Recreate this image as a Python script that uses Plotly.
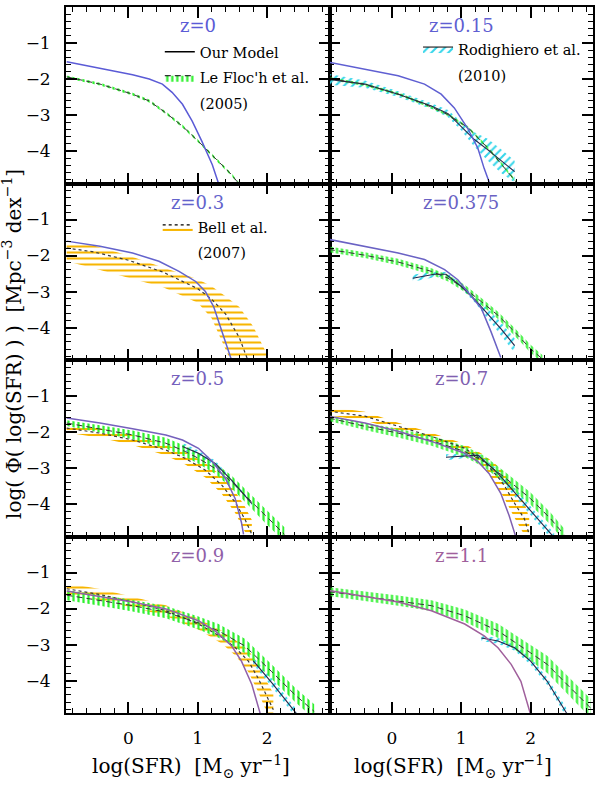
import plotly.graph_objects as go
from plotly.subplots import make_subplots

# ---------------- data ----------------
z_labels = ["z=0", "z=0.15", "z=0.3", "z=0.375", "z=0.5", "z=0.7", "z=0.9", "z=1.1"]
z_colors = ["#5b5bd6", "#5f5fd2", "#6363cc", "#6a62c4", "#7560bc", "#8060b0", "#9060a8", "#a0609c"]

# --- model curves ---
model_x_z0 = [-0.89, -0.41, 0.06, 0.30, 0.49, 0.63, 0.78, 0.92, 1.06, 1.21, 1.30]
model_y_z0 = [-1.52, -1.70, -1.88, -2.00, -2.14, -2.37, -2.70, -3.17, -3.73, -4.38, -4.90]
model_x_z015 = [-0.91, -0.39, 0.09, 0.47, 0.71, 0.90, 1.09, 1.24, 1.33, 1.41]
model_y_z015 = [-1.53, -1.72, -1.91, -2.14, -2.42, -2.80, -3.36, -3.92, -4.48, -4.90]
model_x_z03 = [-0.89, -0.41, 0.06, 0.44, 0.73, 0.97, 1.11, 1.23, 1.32, 1.44, 1.49]
model_y_z03 = [-1.60, -1.74, -1.93, -2.16, -2.44, -2.72, -3.00, -3.42, -3.94, -4.59, -4.92]
model_x_z0375 = [-0.91, -0.39, 0.09, 0.47, 0.76, 0.95, 1.14, 1.29, 1.43, 1.57]
model_y_z0375 = [-1.55, -1.74, -1.93, -2.11, -2.39, -2.67, -3.10, -3.47, -4.12, -4.83]
model_x_z05 = [-0.89, -0.41, 0.06, 0.54, 0.78, 1.01, 1.21, 1.40, 1.54, 1.63, 1.66]
model_y_z05 = [-1.61, -1.75, -1.91, -2.08, -2.22, -2.45, -2.82, -3.29, -3.85, -4.51, -4.84]
model_x_z07 = [-0.91, -0.39, 0.09, 0.57, 1.05, 1.24, 1.40, 1.57, 1.69, 1.79]
model_y_z07 = [-1.56, -1.75, -1.98, -2.26, -2.59, -2.82, -3.15, -3.70, -4.32, -4.93]
model_x_z09 = [-0.89, -0.41, 0.06, 0.54, 1.01, 1.25, 1.49, 1.63, 1.78, 1.90]
model_y_z09 = [-1.51, -1.66, -1.82, -2.01, -2.34, -2.62, -3.04, -3.46, -4.11, -4.91]
model_x_z11 = [-0.91, -0.39, 0.09, 0.57, 1.05, 1.33, 1.53, 1.72, 1.86, 2.00]
model_y_z11 = [-1.50, -1.66, -1.82, -2.06, -2.43, -2.76, -3.09, -3.55, -4.02, -4.94]

# --- Le Floc'h et al. (2005): centre and half-width (dex) ---
lf_x_z0 = [-0.89, -0.41, 0.06, 0.30, 0.54, 0.78, 1.01, 1.25, 1.49, 1.59]
lf_y_z0 = [-1.94, -2.14, -2.42, -2.61, -2.94, -3.31, -3.73, -4.20, -4.66, -4.90]
lf_e_z0 = [0.04, 0.04, 0.04, 0.04, 0.04, 0.04, 0.04, 0.04, 0.04, 0.04]
lf_x_z015 = [-0.91, -0.40, 0.10, 0.50, 0.80, 1.10, 1.40, 1.60, 1.81]
lf_y_z015 = [-1.98, -2.15, -2.42, -2.72, -2.98, -3.35, -3.95, -4.40, -4.90]
lf_e_z015 = [0.04, 0.04, 0.04, 0.04, 0.04, 0.04, 0.04, 0.04, 0.04]
lf_x_z0375 = [-0.91, -0.39, 0.09, 0.57, 0.81, 1.05, 1.29, 1.53, 1.77, 2.00, 2.17]
lf_y_z0375 = [-1.83, -1.99, -2.18, -2.44, -2.63, -2.91, -3.28, -3.66, -4.12, -4.59, -4.87]
lf_e_z0375 = [0.08, 0.08, 0.09, 0.09, 0.09, 0.10, 0.10, 0.10, 0.11, 0.11, 0.11]
lf_x_z05 = [-0.89, -0.41, 0.06, 0.54, 0.82, 1.01, 1.25, 1.49, 1.73, 1.97, 2.25]
lf_y_z05 = [-1.75, -1.91, -2.08, -2.31, -2.54, -2.73, -3.01, -3.39, -3.85, -4.32, -4.84]
lf_e_z05 = [0.08, 0.10, 0.12, 0.15, 0.15, 0.15, 0.15, 0.18, 0.18, 0.20, 0.20]
lf_x_z07 = [-0.91, -0.39, 0.09, 0.57, 1.05, 1.33, 1.62, 2.00, 2.29, 2.48]
lf_y_z07 = [-1.61, -1.84, -2.03, -2.24, -2.54, -2.82, -3.25, -3.85, -4.41, -4.84]
lf_e_z07 = [0.08, 0.10, 0.12, 0.14, 0.15, 0.16, 0.16, 0.17, 0.17, 0.17]
lf_x_z09 = [-0.89, -0.41, 0.06, 0.54, 1.01, 1.30, 1.68, 2.06, 2.40, 2.68]
lf_y_z09 = [-1.63, -1.77, -1.92, -2.10, -2.40, -2.62, -3.04, -3.74, -4.39, -4.86]
lf_e_z09 = [0.14, 0.15, 0.16, 0.17, 0.18, 0.19, 0.20, 0.20, 0.20, 0.20]
lf_x_z11 = [-0.91, -0.39, 0.09, 0.57, 1.05, 1.53, 2.00, 2.24, 2.48, 2.72, 2.87]
lf_y_z11 = [-1.53, -1.66, -1.78, -1.92, -2.20, -2.62, -3.23, -3.55, -4.02, -4.49, -4.77]
lf_e_z11 = [0.12, 0.13, 0.14, 0.15, 0.17, 0.20, 0.22, 0.24, 0.25, 0.26, 0.26]

# --- Rodighiero et al. (2010) ---
rod_x_z015 = [-0.91, -0.39, 0.09, 0.57, 0.81, 1.00, 1.19, 1.38, 1.57, 1.77]
rod_y_z015 = [-2.01, -2.14, -2.42, -2.75, -2.96, -3.31, -3.68, -3.96, -4.27, -4.57]
rod_e_z015 = [0.15, 0.10, 0.08, 0.08, 0.10, 0.12, 0.20, 0.30, 0.33, 0.30]
rod_x_z0375 = [0.30, 0.61, 0.78, 1.00, 1.19, 1.38, 1.57, 1.77]
rod_y_z0375 = [-2.63, -2.52, -2.52, -2.86, -3.21, -3.61, -4.03, -4.50]
rod_e_z0375 = [0.10, 0.08, 0.06, 0.06, 0.08, 0.14, 0.18, 0.20]
rod_x_z05 = [0.78, 1.01, 1.25, 1.49, 1.78]
rod_y_z05 = [-2.40, -2.59, -2.87, -3.34, -3.99]
rod_e_z05 = [0.10, 0.08, 0.08, 0.04, 0.04]
rod_x_z07 = [0.78, 1.05, 1.24, 1.53, 1.81, 2.10, 2.34]
rod_y_z07 = [-2.70, -2.66, -2.64, -3.15, -3.76, -4.41, -4.93]
rod_e_z07 = [0.08, 0.06, 0.06, 0.10, 0.12, 0.12, 0.12]
rod_x_z09 = [1.80, 2.09, 2.42]
rod_y_z09 = [-3.45, -4.11, -4.91]
rod_e_z09 = [0.10, 0.12, 0.12]
rod_x_z11 = [1.29, 1.53, 1.77, 2.00, 2.24, 2.48, 2.53]
rod_y_z11 = [-2.82, -2.90, -3.09, -3.46, -4.02, -4.77, -4.94]
rod_e_z11 = [0.08, 0.08, 0.08, 0.10, 0.10, 0.12, 0.12]

# --- Bell et al. (2007) ---
bell_x_z03 = [-0.89, -0.50, 0.00, 0.50, 1.00, 1.20, 1.40, 1.60, 1.80, 2.00]
bell_y_z03 = [-1.79, -1.90, -2.13, -2.46, -2.92, -3.21, -3.62, -4.28, -5.30, -5.90]
bell_hi_z03 = [-1.63, -1.72, -2.00, -2.33, -2.66, -2.85, -3.13, -3.43, -3.97, -4.75]
bell_lo_z03 = [-2.16, -2.35, -2.62, -2.88, -3.31, -3.74, -4.60, -5.50, -6.20, -6.80]
bell_x_z05 = [-0.89, -0.41, 0.06, 0.54, 0.82, 1.11, 1.35, 1.54, 1.68, 1.78]
bell_y_z05 = [-1.89, -2.03, -2.22, -2.50, -2.73, -3.06, -3.48, -3.95, -4.42, -4.84]
bell_e_z05 = [0.12, 0.13, 0.14, 0.15, 0.17, 0.20, 0.25, 0.30, 0.35, 0.40]
bell_x_z07 = [-0.91, -0.39, 0.09, 0.57, 1.05, 1.33, 1.53, 1.62, 1.76, 1.91, 1.98]
bell_y_z07 = [-1.42, -1.56, -1.84, -2.12, -2.45, -2.82, -3.25, -3.48, -3.95, -4.41, -4.84]
bell_e_z07 = [0.12, 0.12, 0.10, 0.10, 0.12, 0.18, 0.30, 0.35, 0.40, 0.45, 0.45]
bell_x_z09 = [-0.89, -0.41, 0.06, 0.54, 1.01, 1.35, 1.55, 1.73, 1.87, 1.98, 2.09]
bell_y_z09 = [-1.45, -1.61, -1.82, -2.06, -2.43, -2.80, -3.10, -3.46, -3.93, -4.39, -4.81]
bell_e_z09 = [0.15, 0.15, 0.15, 0.15, 0.15, 0.18, 0.22, 0.30, 0.38, 0.42, 0.45]

x_ticks = [0, 1, 2]
y_ticks = [-4, -3, -2, -1]

# ---------------- styles ----------------
GREEN = "#2ff02f"
CYAN = "#36d6ea"
ORANGE = "#f7b500"
SERIF = "DejaVu Serif"


def lo_hi(y, e):
    return [a - b for a, b in zip(y, e)], [a + b for a, b in zip(y, e)]


panels = [
    dict(model=(model_x_z0, model_y_z0), lf=(lf_x_z0, lf_y_z0, lf_e_z0)),
    dict(model=(model_x_z015, model_y_z015), lf=(lf_x_z015, lf_y_z015, lf_e_z015),
         rod=(rod_x_z015, rod_y_z015, rod_e_z015)),
    dict(model=(model_x_z03, model_y_z03),
         bell_band=(bell_x_z03, bell_y_z03, bell_lo_z03, bell_hi_z03)),
    dict(model=(model_x_z0375, model_y_z0375), lf=(lf_x_z0375, lf_y_z0375, lf_e_z0375),
         rod=(rod_x_z0375, rod_y_z0375, rod_e_z0375)),
    dict(model=(model_x_z05, model_y_z05), lf=(lf_x_z05, lf_y_z05, lf_e_z05),
         rod=(rod_x_z05, rod_y_z05, rod_e_z05), bell=(bell_x_z05, bell_y_z05, bell_e_z05)),
    dict(model=(model_x_z07, model_y_z07), lf=(lf_x_z07, lf_y_z07, lf_e_z07),
         rod=(rod_x_z07, rod_y_z07, rod_e_z07), bell=(bell_x_z07, bell_y_z07, bell_e_z07)),
    dict(model=(model_x_z09, model_y_z09), lf=(lf_x_z09, lf_y_z09, lf_e_z09),
         rod=(rod_x_z09, rod_y_z09, rod_e_z09), bell=(bell_x_z09, bell_y_z09, bell_e_z09)),
    dict(model=(model_x_z11, model_y_z11), lf=(lf_x_z11, lf_y_z11, lf_e_z11),
         rod=(rod_x_z11, rod_y_z11, rod_e_z11)),
]

fig = make_subplots(rows=4, cols=2, horizontal_spacing=0, vertical_spacing=0)

PAT = {
    "lf": dict(shape="|", fgcolor=GREEN, size=5, solidity=0.45),
    "rod": dict(shape="/", fgcolor=CYAN, size=6, solidity=0.35),
    "bell": dict(shape="-", fgcolor=ORANGE, size=6, solidity=0.35),
}
CENTER = {
    "lf": dict(color="#333333", width=1, dash="6px,4px"),
    "rod": dict(color="#25254a", width=1.1),
    "bell": dict(color="#3a3a3a", width=1.2, dash="dot"),
}


def band(x, lo, hi, kind, row, col):
    xs = list(x) + list(x)[::-1]
    ys = list(hi) + list(lo)[::-1]
    p = dict(PAT[kind])
    p["bgcolor"] = "rgba(0,0,0,0)"
    p["fillmode"] = "replace"
    fig.add_trace(go.Scatter(x=xs, y=ys, mode="none", fill="toself",
                             fillcolor="rgba(0,0,0,0)", fillpattern=p,
                             hoverinfo="skip", showlegend=False), row=row, col=col)


def centre(x, y, kind, row, col):
    fig.add_trace(go.Scatter(x=x, y=y, mode="lines", line=CENTER[kind],
                             hoverinfo="skip", showlegend=False), row=row, col=col)


for i, p in enumerate(panels):
    row, col = i // 2 + 1, i % 2 + 1
    if "bell_band" in p:
        x, y, lo, hi = p["bell_band"]
        band(x, lo, hi, "bell", row, col)
    if "bell" in p:
        x, y, e = p["bell"]
        lo, hi = lo_hi(y, e)
        band(x, lo, hi, "bell", row, col)
    if "rod" in p:
        x, y, e = p["rod"]
        lo, hi = lo_hi(y, e)
        band(x, lo, hi, "rod", row, col)
    if "lf" in p:
        x, y, e = p["lf"]
        lo, hi = lo_hi(y, e)
        band(x, lo, hi, "lf", row, col)
    if "bell_band" in p:
        x, y, lo, hi = p["bell_band"]
        centre(x, y, "bell", row, col)
    if "bell" in p:
        centre(p["bell"][0], p["bell"][1], "bell", row, col)
    if "rod" in p:
        centre(p["rod"][0], p["rod"][1], "rod", row, col)
    if "lf" in p:
        centre(p["lf"][0], p["lf"][1], "lf", row, col)
    mx, my = p["model"]
    fig.add_trace(go.Scatter(x=mx, y=my, mode="lines",
                             line=dict(color=z_colors[i], width=1.5),
                             hoverinfo="skip", showlegend=False), row=row, col=col)
    fig.add_annotation(text=z_labels[i], x=1.0, y=-0.52, xanchor="center", yanchor="middle",
                       showarrow=False, font=dict(family=SERIF, size=18, color=z_colors[i]),
                       row=row, col=col)


# ---------------- legends (legend-only traces) ----------------
def legend_entry(name, legend, group, row, col, pattern=None, line=None):
    kw = dict(x=[None], y=[None], mode="lines", name=name, legend=legend,
              legendgroup=group, showlegend=True, hoverinfo="skip")
    if pattern is not None:
        kw.update(fill="toself", fillcolor="rgba(0,0,0,0)",
                  fillpattern=dict(bgcolor="rgba(0,0,0,0)", fillmode="replace", **pattern))
    kw["line"] = line if line is not None else dict(width=0, color="rgba(0,0,0,0)")
    fig.add_trace(go.Scatter(**kw), row=row, col=col)


legend_entry("Our Model", "legend", "g1", 1, 1, line=dict(color="black", width=1.5))
legend_entry("Le Floc'h et al.", "legend", "g2", 1, 1, pattern=PAT["lf"],
             line=dict(color="black", width=1, dash="6px,4px"))
legend_entry("(2005)", "legend", "g3", 1, 1)
legend_entry("Rodighiero et al.", "legend2", "g4", 1, 2, pattern=PAT["rod"],
             line=dict(color="black", width=1))
legend_entry("(2010)", "legend2", "g5", 1, 2)
legend_entry("Bell et al.", "legend3", "g6", 2, 1, pattern=PAT["bell"],
             line=dict(color="black", width=1.2, dash="dot"))
legend_entry("(2007)", "legend3", "g7", 2, 1)

LEGEND_FONT = dict(family=SERIF, size=14.5, color="black")
LEG = dict(xanchor="left", yanchor="top", bgcolor="rgba(0,0,0,0)", font=LEGEND_FONT,
           traceorder="grouped", tracegroupgap=4)
fig.update_layout(
    legend=dict(x=0.178, y=0.959, **LEG),
    legend2=dict(x=0.668, y=0.963, **LEG),
    legend3=dict(x=0.174, y=0.711, **LEG),
)

# ---------------- axes ----------------
for i in range(8):
    row, col = i // 2 + 1, i % 2 + 1
    fig.update_xaxes(range=[-0.9, 2.9], tickmode="array", tickvals=x_ticks,
                     ticks="inside", ticklen=11, tickwidth=1.5, tickcolor="black",
                     mirror="allticks", showline=True, linecolor="black", linewidth=1.8,
                     showgrid=False, zeroline=False,
                     minor=dict(ticks="inside", dtick=0.2, tick0=0, ticklen=5, tickwidth=1.2,
                                tickcolor="black", showgrid=False),
                     showticklabels=(row == 4), ticklabelstandoff=9,
                     tickfont=dict(family=SERIF, size=17, color="black"),
                     row=row, col=col)
    fig.update_yaxes(range=[-4.9, 0], tickmode="array", tickvals=y_ticks,
                     ticks="inside", ticklen=11, tickwidth=1.5, tickcolor="black",
                     mirror="allticks", showline=True, linecolor="black", linewidth=1.8,
                     showgrid=False, zeroline=False,
                     minor=dict(ticks="inside", dtick=0.2, tick0=0, ticklen=5, tickwidth=1.2,
                                tickcolor="black", showgrid=False),
                     showticklabels=(col == 1), ticklabelstandoff=10,
                     tickfont=dict(family=SERIF, size=17, color="black"),
                     row=row, col=col)

xtitle = "log(SFR)  [M<sub>⊙</sub> yr<sup>−1</sup>]"
for xc in (0.238, 0.735):
    fig.add_annotation(text=xtitle, xref="paper", yref="paper", x=xc, y=-0.076,
                       xanchor="center", yanchor="middle", showarrow=False,
                       font=dict(family=SERIF, size=20, color="black"))
fig.add_annotation(text="log( Φ( log(SFR) ) )  [Mpc<sup>−3</sup> dex<sup>−1</sup>]",
                   xref="paper", yref="paper", x=-0.102, y=0.523, textangle=-90,
                   xanchor="center", yanchor="middle", showarrow=False,
                   font=dict(family=SERIF, size=20, color="black"))

fig.update_layout(width=600, height=786, margin=dict(l=66, r=5, t=7, b=73),
                  paper_bgcolor="white", plot_bgcolor="white")

# remove the browser's default 8 px page margin so the figure fills the window
fig.write_html("out.html", config={"displayModeBar": False},
               post_script="document.body.style.margin='0';document.body.style.overflow='hidden';")
